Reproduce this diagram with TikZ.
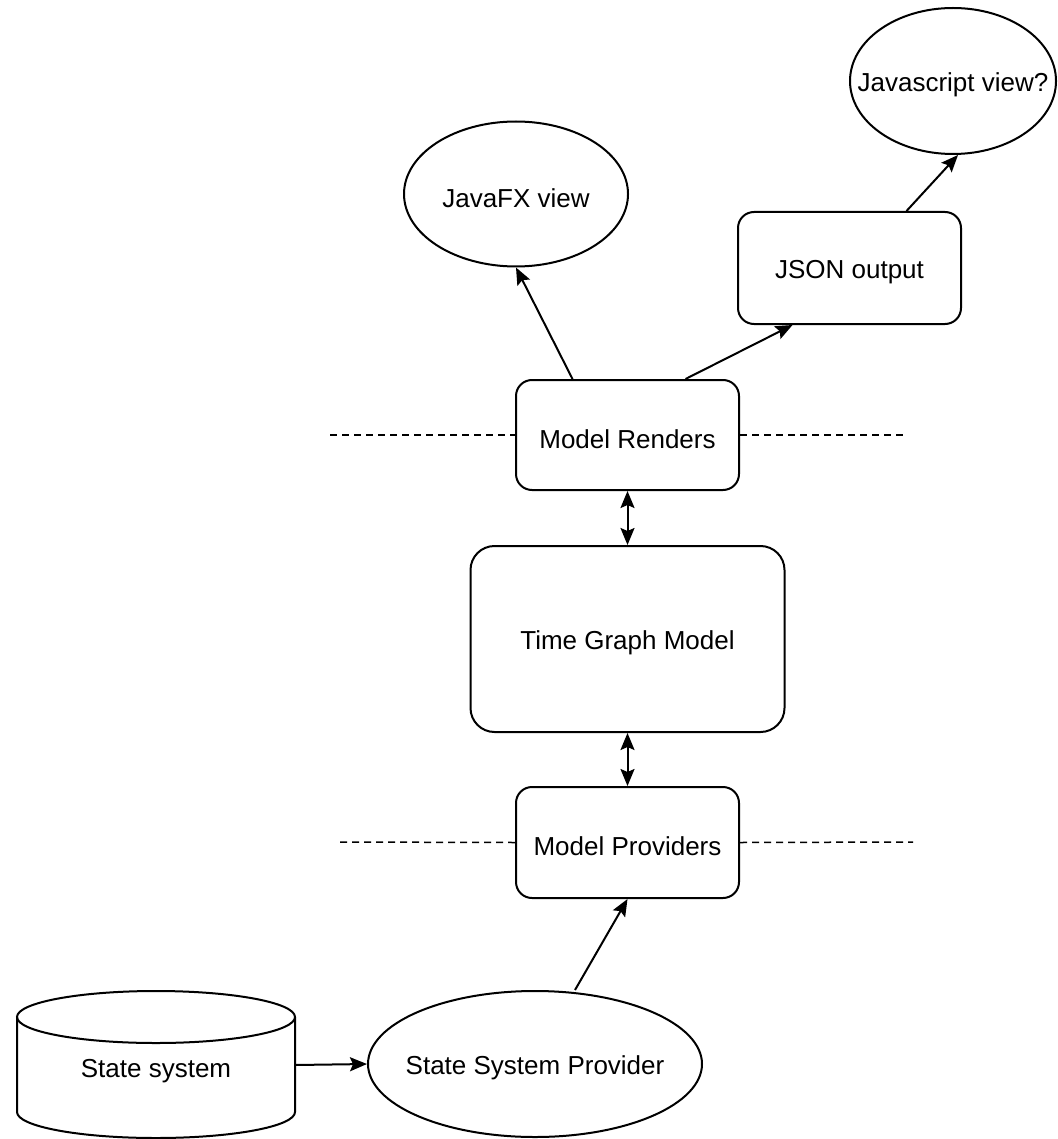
\documentclass[tikz,border=0pt]{standalone}
\usepackage{fontspec}
\setmainfont{Liberation Sans}
\usetikzlibrary{shapes.geometric,arrows.meta}
\newcommand{\lowtxt}[1]{\raisebox{-4pt}[\height][\depth]{#1}}
\newcommand{\ovaltxt}[1]{\makebox[0pt]{\raisebox{-4pt}[\height][\depth]{#1}}}
\begin{document}
\begin{tikzpicture}[x=1pt,y=-1pt,
 lbl/.style={font=\fontsize{26}{30}\selectfont},
 box/.style={lbl, draw, line width=2pt, rounded corners=16pt, inner sep=0pt},
 oval/.style={lbl, draw, ellipse, line width=2pt, inner sep=0pt},
 conn/.style={line width=2pt, -{Stealth[length=17pt,width=14pt,inset=3pt]}},
 both/.style={line width=2pt, {Stealth[length=17pt,width=14pt,inset=3pt]}-{Stealth[length=17pt,width=14pt,inset=3pt]}},
 layer/.style={line width=1.5pt, dash pattern=on 7pt off 5pt}]
\useasboundingbox (0,0) rectangle (1057,1139);

% nodes
\node[oval, minimum width=206pt, minimum height=146pt] (js) at (953,81) {\ovaltxt{Javascript view?}};
\node[oval, minimum width=224pt, minimum height=145pt] (jfx) at (516,194) {\ovaltxt{JavaFX view}};
\node[box, minimum width=223pt, minimum height=112pt] (json) at (849.5,268) {\lowtxt{JSON output}};
\node[box, minimum width=223pt, minimum height=110pt] (mr) at (627.5,435) {\lowtxt{Model Renders}};
\node[box, rounded corners=24pt, minimum width=314pt, minimum height=186pt] (tgm) at (627.5,639) {\lowtxt{Time Graph Model}};
\node[box, minimum width=223pt, minimum height=111pt] (mp) at (627.5,842.5) {\lowtxt{Model Providers}};
\node[oval, minimum width=334pt, minimum height=146pt] (ssp) at (535,1064) {\ovaltxt{State System Provider}};

% cylinder
\node[minimum width=278pt, minimum height=147pt, inner sep=0pt] (ss) at (156,1065) {};
\draw[line width=2pt] (17,1017) -- (17,1112) arc[start angle=180, end angle=360, x radius=139pt, y radius=26pt] -- (295,1017);
\draw[line width=2pt] (156,1017) ellipse [x radius=139pt, y radius=26pt];
\node[lbl] (sstext) at (156,1071) {State system};

% dashed layer lines
\coordinate (d1) at (330,435);
\coordinate (d2) at (905,435);
\coordinate (d3) at (340,842);
\coordinate (d4) at (913,842);
\draw[layer] (d1) -- (mr.west);
\draw[layer] (mr.east) -- (d2);
\draw[layer] (d3) -- (mp.west);
\draw[layer] (mp.east) -- (d4);

% connectors
\draw[conn] ([xshift=-55pt]mr.north) -- (jfx.south);
\draw[conn] ([xshift=58pt]mr.north) -- ([xshift=-57pt]json.south);
\draw[conn] ([xshift=57pt]json.north) -- ([xshift=5pt]js.south);
\draw[both] (mr.south) -- (tgm.north);
\draw[both] (tgm.south) -- (mp.north);
\draw[conn] ([xshift=40pt]ssp.north) -- (mp.south);
\draw[conn] (ss.east) -- (ssp.west);
\end{tikzpicture}
\end{document}
